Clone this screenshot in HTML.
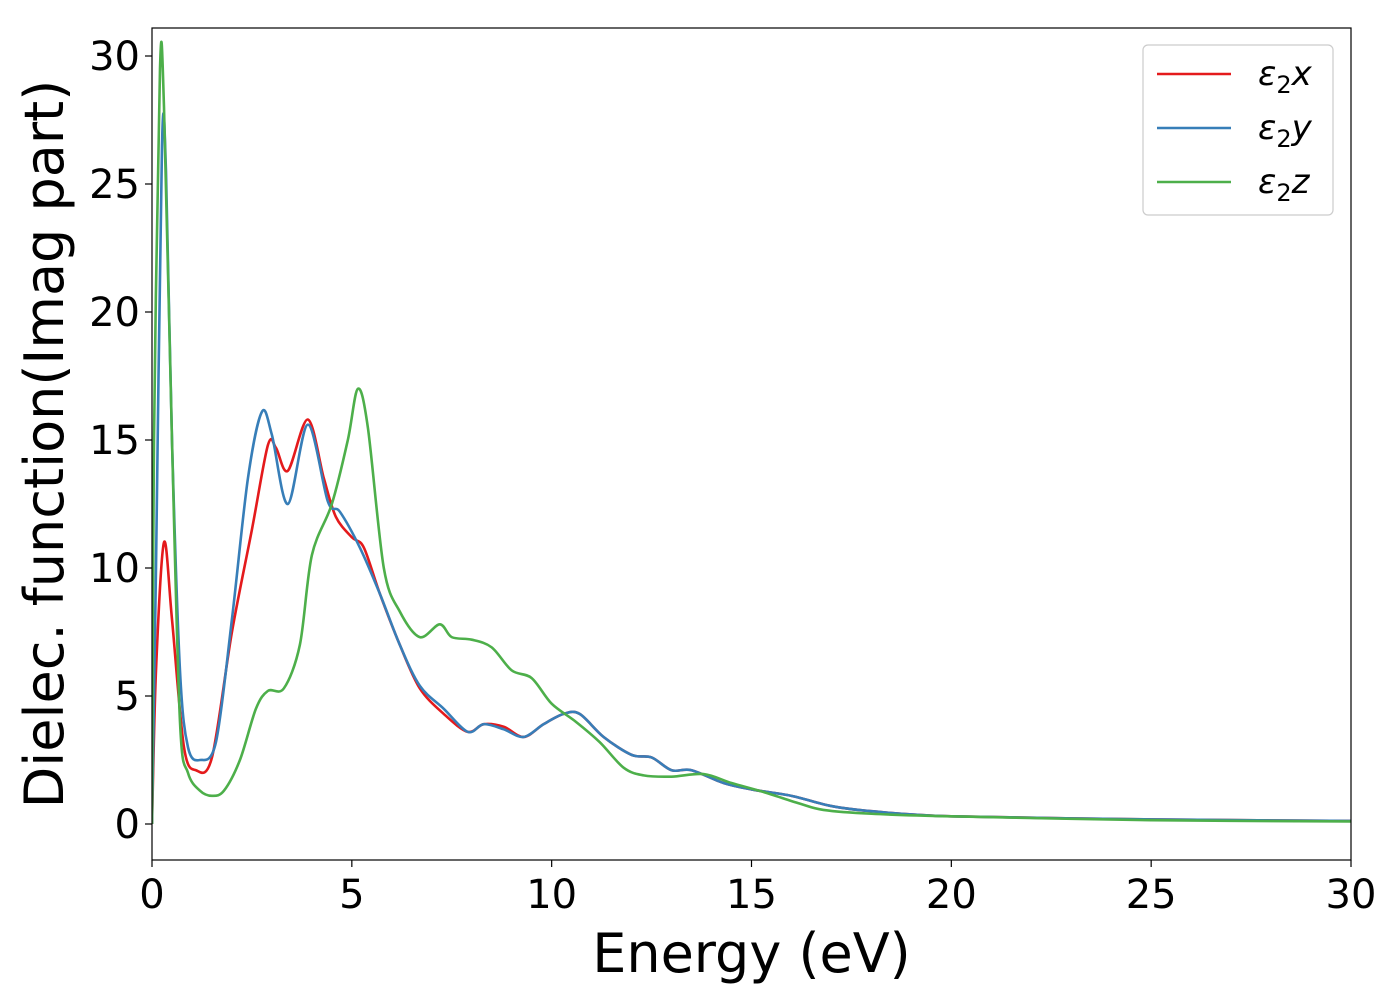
<!DOCTYPE html>
<html><head><meta charset="utf-8"><style>
body{margin:0;background:#fff}
svg text{font-family:"DejaVu Sans","Liberation Sans",sans-serif;fill:#000}
</style></head><body>
<svg width="1400" height="1000" xmlns="http://www.w3.org/2000/svg">
<g id="plot"></g>
</svg>
<script>
const xTicks=[0,5,10,15,20,25,30];
const yTicks=[0,5,10,15,20,25,30];
const eX=[0,0.1,0.3,0.5,0.8,1.1,1.5,2.0,2.5,2.9,3.1,3.4,3.9,4.3,4.6,5.0,5.3,5.7,6.2,6.7,7.3,7.9,8.3,8.8,9.3,9.8,10.3,10.7,11.3,12.0,12.5,13.0,13.5,14.3,15,16,17,18,20,25,30];
const vX=[0,6,11.0,8,3,2.1,2.6,7.5,11.5,14.8,14.7,13.8,15.8,13.5,12.0,11.2,10.8,9,7,5.3,4.3,3.6,3.9,3.8,3.4,3.9,4.3,4.3,3.4,2.7,2.6,2.1,2.1,1.6,1.35,1.1,0.7,0.5,0.3,0.18,0.12];
const eY=[0,0.1,0.25,0.35,0.5,0.7,0.9,1.2,1.6,2.0,2.4,2.75,3.0,3.4,3.9,4.4,4.7,5.2,5.7,6.2,6.7,7.3,7.9,8.3,8.8,9.3,9.8,10.3,10.7,11.3,12.0,12.5,13.0,13.5,14.3,15,16,17,18,20,25,30];
const vY=[0,10,26.5,25.5,15,6,3,2.5,3.2,8,13.5,16.1,15.2,12.5,15.6,12.6,12.2,10.8,9.0,7.0,5.4,4.5,3.6,3.9,3.7,3.4,3.9,4.3,4.3,3.4,2.7,2.6,2.1,2.1,1.6,1.35,1.1,0.7,0.5,0.3,0.18,0.12];
const eZ=[0,0.05,0.2,0.3,0.5,0.7,0.9,1.2,1.5,1.8,2.2,2.6,2.9,3.3,3.7,4.0,4.5,4.9,5.15,5.4,5.8,6.2,6.7,7.2,7.5,8.0,8.5,9.0,9.5,10.0,10.6,11.2,11.8,12.3,13.0,13.8,14.5,15.3,16.2,16.8,18,20,25,30];
const vZ=[0,15,29.5,28,15,4,2,1.3,1.1,1.3,2.5,4.5,5.2,5.3,7,10.5,12.5,15,17.0,15.5,10,8.3,7.3,7.8,7.3,7.2,6.9,6.0,5.7,4.7,4.0,3.2,2.2,1.9,1.85,1.95,1.6,1.25,0.8,0.55,0.4,0.3,0.15,0.1];
const series=[[eX,vX,'#e41a1c','series-e2x','x'],[eY,vY,'#377eb8','series-e2y','y'],[eZ,vZ,'#4daf4a','series-e2z','z']];
const L=152,R=1351,T=28,B=860;
const sx=e=>L+(e-0)/(30-0)*(R-L);
const sy=v=>824+(v-0)/(30-0)*(56-824);
const NS='http://www.w3.org/2000/svg';
const g=document.getElementById('plot');
function mk(t,a,p){const el=document.createElementNS(NS,t);for(const k in a)el.setAttribute(k,a[k]);(p||g).appendChild(el);return el;}
function path(xs,ys){const p=xs.map((x,i)=>[sx(x),sy(ys[i])]);let d='M'+p[0][0]+','+p[0][1];
for(let i=0;i<p.length-1;i++){const p0=p[Math.max(0,i-1)],p1=p[i],p2=p[i+1],p3=p[Math.min(p.length-1,i+2)];
const t=0.16;d+=' C'+(p1[0]+(p2[0]-p0[0])*t)+','+(p1[1]+(p2[1]-p0[1])*t)+' '+(p2[0]-(p3[0]-p1[0])*t)+','+(p2[1]-(p3[1]-p1[1])*t)+' '+p2[0]+','+p2[1];}return d;}
const defs=mk('defs',{});const cp=mk('clipPath',{id:'c'},defs);mk('rect',{x:L,y:T,width:R-L,height:B-T},cp);
for(const s of series){const el=mk('path',{d:path(s[0],s[1]),fill:'none',stroke:s[2],'stroke-width':2.6,'clip-path':'url(#c)'});

}
const frame=mk('rect',{x:L,y:T,width:R-L,height:B-T,fill:'none',stroke:'#000','stroke-width':1.2});


for(const t of xTicks){mk('line',{x1:sx(t),x2:sx(t),y1:B,y2:B+7,stroke:'#000','stroke-width':1.2});
const tx=mk('text',{x:sx(t),y:B+48,'text-anchor':'middle','font-size':40});tx.textContent=t;

}
for(const t of yTicks){mk('line',{x1:L-7,x2:L,y1:sy(t),y2:sy(t),stroke:'#000','stroke-width':1.2});
const tx=mk('text',{x:L-12,y:sy(t)+14,'text-anchor':'end','font-size':40});tx.textContent=t;

}
const xl=mk('text',{x:(L+R)/2,y:972,'text-anchor':'middle','font-size':54});xl.textContent='Energy (eV)';


const yl=mk('text',{x:0,y:0,'text-anchor':'middle','font-size':54,transform:'translate(63,444) rotate(-90)'});yl.textContent='Dielec. function(Imag part)';


const lg=mk('g',{});


mk('rect',{x:1143,y:45,width:190,height:170,rx:5,fill:'#fff',stroke:'#ccc','stroke-width':1.2},lg);
series.forEach((s,i)=>{const y=74+i*54;
const e=mk('g',{},lg);


mk('line',{x1:1157,x2:1231,y1:y,y2:y,stroke:s[2],'stroke-width':2.6},e);
const t=mk('text',{x:1258,y:y+11,'font-size':34,'font-style':'italic'},e);
t.innerHTML='ε<tspan font-style="normal" font-size="24" dy="8">2</tspan><tspan dy="-8">'+s[4]+'</tspan>';});
</script>
</body></html>
